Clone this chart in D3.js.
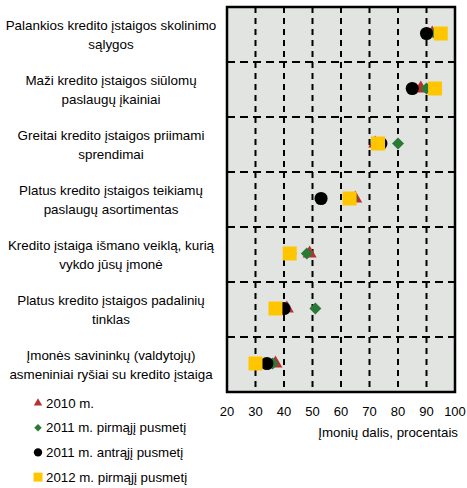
<!DOCTYPE html>
<html>
<head>
<meta charset="utf-8">
<script src="https://cdn.jsdelivr.net/npm/d3@7"></script>
<style>
  body { margin: 0; background: #fff; }
  text { font-family: "Liberation Sans", Arial, sans-serif; fill: #000; }
</style>
</head>
<body>
<svg id="chart" width="467" height="488"></svg>
<script>
// kategorijos (eilutės)
let categories = [
    ['Palankios kredito įstaigos skolinimo', 'sąlygos'],
    ['Maži kredito įstaigos siūlomų', 'paslaugų įkainiai'],
    ['Greitai kredito įstaigos priimami', 'sprendimai'],
    ['Platus kredito įstaigos teikiamų', 'paslaugų asortimentas'],
    ['Kredito įstaiga išmano veiklą, kurią', 'vykdo jūsų įmonė'],
    ['Platus kredito įstaigos padalinių', 'tinklas'],
    ['Įmonės savininkų (valdytojų)', 'asmeniniai ryšiai su kredito įstaiga']
];

let seriesNames = ['2010 m.', '2011 m. pirmąjį pusmetį', '2011 m. antrąjį pusmetį', '2012 m. pirmąjį pusmetį'];

let v2010   = [92, 88, 72, 65, 49, 41, 37];
let v2011a  = [93, 90, 80, 64, 48, 51, 36];
let v2011b  = [90, 85, 74, 53, 42, 40, 34];
let v2012   = [95, 93, 73, 63, 42, 37, 30];

let xTicks = [20, 30, 40, 50, 60, 70, 80, 90, 100];

let seriesValues = [v2010, v2011a, v2011b, v2012];
let colors = ['#b8312f', '#2a7a36', '#000000', '#ffc600'];
let shapes = [d3.symbolTriangle, d3.symbolSquare, d3.symbolCircle, d3.symbolSquare];
let rotations = [0, 45, 0, 0];
let sizes = [85, 72, 135, 196];
let legendSizes = [30, 28, 55, 80];

var svg = d3.select('#chart');
var pLeft = 227, pRight = 455, pTop = 7, pBottom = 392;

var x = d3.scaleLinear().domain([20, 100]).range([pLeft, pRight]);
var y = d3.scaleBand().domain(d3.range(categories.length)).range([pTop, pBottom]).padding(0);

svg.append('rect').attr('x', pLeft).attr('y', pTop)
    .attr('width', pRight - pLeft).attr('height', pBottom - pTop)
    .attr('fill', '#e1e4e1');

// tinklelis
svg.append('g').selectAll('line').data(xTicks.slice(1, -1)).enter().append('line')
    .attr('x1', d => x(d)).attr('x2', d => x(d))
    .attr('y1', pTop).attr('y2', pBottom)
    .attr('stroke', '#000').attr('stroke-width', 2).attr('stroke-dasharray', '6,5');

svg.append('g').selectAll('line').data(d3.range(1, categories.length)).enter().append('line')
    .attr('x1', pLeft).attr('x2', pRight)
    .attr('y1', d => y(d)).attr('y2', d => y(d))
    .attr('stroke', '#000').attr('stroke-width', 2).attr('stroke-dasharray', '8,5');

// taškai
seriesValues.forEach((vals, s) => {
    svg.append('g').selectAll('path').data(vals).enter().append('path')
        .attr('d', d3.symbol().type(shapes[s]).size(sizes[s]))
        .attr('transform', (d, i) => 'translate(' + x(d) + ',' + (y(i) + y.bandwidth() / 2 - 1) + ') rotate(' + rotations[s] + ')')
        .attr('fill', colors[s]);
});

svg.append('rect').attr('x', pLeft).attr('y', pTop)
    .attr('width', pRight - pLeft).attr('height', pBottom - pTop)
    .attr('fill', 'none').attr('stroke', '#000').attr('stroke-width', 2.5);

// kategorijų pavadinimai
var labels = svg.append('g').selectAll('text').data(categories).enter().append('text')
    .attr('text-anchor', 'middle').attr('font-size', 13.4)
    .attr('x', 111)
    .attr('y', (d, i) => y(i) + y.bandwidth() / 2);
labels.selectAll('tspan').data(d => d).enter().append('tspan')
    .attr('x', 111)
    .attr('dy', (d, j) => j === 0 ? '-0.35em' : '1.42em')
    .text(d => d);

// x ašis
svg.append('g').selectAll('text').data(xTicks).enter().append('text')
    .attr('x', d => x(d)).attr('y', 416)
    .attr('text-anchor', 'middle').attr('font-size', 13)
    .text(d => d);

svg.append('text').attr('x', 458).attr('y', 437)
    .attr('text-anchor', 'end').attr('font-size', 13.3)
    .text('Įmonių dalis, procentais');

// legenda
var leg = svg.append('g').selectAll('g').data(seriesNames).enter().append('g')
    .attr('transform', (d, i) => 'translate(38,' + (403 + i * 24.7) + ')');
leg.append('path')
    .attr('d', (d, i) => d3.symbol().type(shapes[i]).size(legendSizes[i])())
    .attr('transform', (d, i) => 'rotate(' + rotations[i] + ')')
    .attr('fill', (d, i) => colors[i]);
leg.append('text').attr('x', 8).attr('dy', '0.35em').attr('font-size', 13.3)
    .text(d => d);
</script>
</body>
</html>
